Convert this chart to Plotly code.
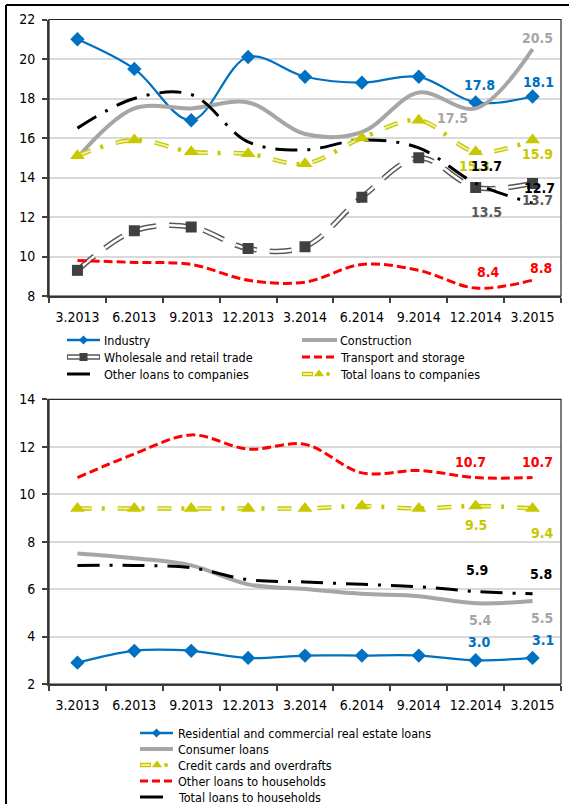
import plotly.graph_objects as go

W, H = 569, 804
FONT = "DejaVu Sans Condensed, DejaVu Sans, sans-serif"

# ---- data -----------------------------------------------------------------
quarters = ["3.2013", "6.2013", "9.2013", "12.2013", "3.2014",
            "6.2014", "9.2014", "12.2014", "3.2015"]

# loans to companies
industry = [21.0, 19.5, 16.9, 20.1, 19.1, 18.8, 19.1, 17.8, 18.1]
construction = [15.0, 17.5, 17.5, 17.8, 16.2, 16.3, 18.3, 17.5, 20.5]
wholesale_retail = [9.3, 11.3, 11.5, 10.4, 10.5, 13.0, 15.0, 13.5, 13.7]
transport_storage = [9.8, 9.7, 9.6, 8.8, 8.7, 9.6, 9.3, 8.4, 8.8]
other_companies = [16.5, 18.0, 18.2, 15.8, 15.4, 15.9, 15.5, 13.7, 12.7]
total_companies = [15.1, 15.9, 15.3, 15.2, 14.7, 16.0, 16.9, 15.3, 15.9]

# loans to households
real_estate = [2.9, 3.4, 3.4, 3.1, 3.2, 3.2, 3.2, 3.0, 3.1]
consumer = [7.5, 7.3, 7.0, 6.2, 6.0, 5.8, 5.7, 5.4, 5.5]
credit_cards = [9.4, 9.4, 9.4, 9.4, 9.4, 9.5, 9.4, 9.5, 9.4]
other_households = [10.7, 11.7, 12.5, 11.9, 12.1, 10.9, 11.0, 10.7, 10.7]
total_households = [7.0, 7.0, 6.9, 6.4, 6.3, 6.2, 6.1, 5.9, 5.8]

companies_ticks = [8, 10, 12, 14, 16, 18, 20, 22]
households_ticks = [2, 4, 6, 8, 10, 12, 14]

# category positions on the x axis
pos = list(range(len(quarters)))

# ---- styles ---------------------------------------------------------------
BLUE = "#0070c0"
GREY = "#a6a6a6"
DARK = "#595959"
SQUARE = "#404040"
RED = "#ff0000"
YELLOW = "#c8c800"
YELLOW_IN = "#f2f2a6"
BLACK = "#000000"

DASH_WHOLESALE = "22px,13px"
DASH_RED = "9px,4px"
DASH_BLACK = "22px,10px,3px,10px"
DASH_YELLOW = "14px,10px,3px,13px"
DASH_YELLOW_IN = "14px,26px"

fig = go.Figure()


def add_line(y, color, width, dash="solid", axis=""):
    fig.add_trace(go.Scatter(
        x=pos, y=y, mode="lines",
        line=dict(color=color, width=width, dash=dash, shape="spline", smoothing=1),
        xaxis="x" + axis, yaxis="y" + axis, hoverinfo="skip", showlegend=False))


def add_markers(y, symbol, size, color, axis=""):
    fig.add_trace(go.Scatter(
        x=pos, y=y, mode="markers",
        marker=dict(symbol=symbol, size=size, color=color, line=dict(width=0)),
        xaxis="x" + axis, yaxis="y" + axis, hoverinfo="skip", showlegend=False))


# top panel: companies
add_line(industry, BLUE, 2.25)
add_markers(industry, "diamond", 11, BLUE)
add_line(construction, GREY, 4)
add_line(wholesale_retail, DARK, 5.5, DASH_WHOLESALE)
add_line(wholesale_retail, "#ffffff", 2.5, DASH_WHOLESALE)
add_markers(wholesale_retail, "square", 11, SQUARE)
add_line(transport_storage, RED, 3, DASH_RED)
add_line(other_companies, BLACK, 3, DASH_BLACK)
add_line(total_companies, YELLOW, 4.5, DASH_YELLOW)
add_line(total_companies, YELLOW_IN, 1.8, DASH_YELLOW_IN)
add_markers(total_companies, "triangle-up", 13, YELLOW)

# bottom panel: households
add_line(real_estate, BLUE, 2.25, axis="2")
add_markers(real_estate, "diamond", 11, BLUE, axis="2")
add_line(consumer, GREY, 4, axis="2")
add_line(credit_cards, YELLOW, 4.5, DASH_YELLOW, axis="2")
add_line(credit_cards, YELLOW_IN, 1.8, DASH_YELLOW_IN, axis="2")
add_markers(credit_cards, "triangle-up", 13, YELLOW, axis="2")
add_line(other_households, RED, 3, DASH_RED, axis="2")
add_line(total_households, BLACK, 3, DASH_BLACK, axis="2")

# ---- value labels on the last two quarters --------------------------------
annotations = []


def value_label(series, i, color, dx, dy, axis=""):
    annotations.append(dict(
        x=pos[i], y=series[i], xref="x" + axis, yref="y" + axis,
        text="<b>%.1f</b>" % series[i], showarrow=False,
        xshift=dx, yshift=dy, font=dict(family=FONT, size=14, color=color)))


value_label(industry, 7, BLUE, 3.5, 17.5)
value_label(industry, 8, BLUE, 5.5, 15)
value_label(construction, 8, GREY, 4.5, 11.5)
value_label(construction, 7, GREY, -23.5, -10)
value_label(total_companies, 7, YELLOW, -1.5, -14)
value_label(other_companies, 7, BLACK, 10.5, 17.7)
value_label(total_companies, 8, YELLOW, 4.5, -14.3)
value_label(other_companies, 8, BLACK, 6.5, 15)
value_label(wholesale_retail, 8, DARK, 4.5, -16.6)
value_label(wholesale_retail, 7, DARK, 10.5, -24.3)
value_label(transport_storage, 7, RED, 12.5, 16.4)
value_label(transport_storage, 8, RED, 8.5, 12.5)

value_label(other_households, 7, RED, -4.8, 15.9, "2")
value_label(other_households, 8, RED, 4.8, 15.9, "2")
value_label(credit_cards, 7, YELLOW, 0, -18.9, "2")
value_label(credit_cards, 8, YELLOW, 9.5, -24.8, "2")
value_label(total_households, 7, BLACK, 1.5, 21.3, "2")
value_label(total_households, 8, BLACK, 8.5, 19.7, "2")
value_label(consumer, 7, GREY, 4.5, -16.6, "2")
value_label(consumer, 8, GREY, 9.5, -16.7, "2")
value_label(real_estate, 7, BLUE, 3.5, 18, "2")
value_label(real_estate, 8, BLUE, 10.5, 17.9, "2")

# ---- legends (drawn on a transparent pixel overlay axis) -------------------
def lg_line(x0, x1, y, color, width, dash="solid"):
    fig.add_trace(go.Scatter(
        x=[x0, x1], y=[y, y], mode="lines",
        line=dict(color=color, width=width, dash=dash),
        xaxis="x3", yaxis="y3", hoverinfo="skip", showlegend=False))


def lg_marker(x, y, symbol, size, color):
    fig.add_trace(go.Scatter(
        x=[x], y=[y], mode="markers",
        marker=dict(symbol=symbol, size=size, color=color, line=dict(width=0)),
        xaxis="x3", yaxis="y3", hoverinfo="skip", showlegend=False))


def lg_text(x, y, text):
    annotations.append(dict(
        x=x, y=y, xref="x3", yref="y3", text=text, showarrow=False,
        xanchor="left", yanchor="middle",
        font=dict(family=FONT, size=12.5, color=BLACK)))


def key_blue(x0, x1, y):
    lg_line(x0, x1, y, BLUE, 2.5)
    lg_marker((x0 + x1) / 2, y, "diamond", 7, BLUE)


def key_grey(x0, x1, y):
    lg_line(x0, x1, y, GREY, 4)


def key_wholesale(x0, x1, y):
    lg_line(x0, x1, y, DARK, 5.5)
    lg_line(x0 + 1, x1 - 1, y, "#ffffff", 2.5)
    lg_marker((x0 + x1) / 2, y, "square", 8, SQUARE)


def key_red(x0, x1, y):
    lg_line(x0, x1, y, RED, 3, "8px,4px")


def key_black(x0, x1, y):
    lg_line(x0, x0 + 23, y, BLACK, 3)


def key_yellow(x0, x1, y):
    lg_line(x0, x0 + 11, y, YELLOW, 4.5)
    lg_line(x0 + 1, x0 + 10, y, YELLOW_IN, 1.8)
    lg_marker(x0 + 17, y, "triangle-up", 9, YELLOW)
    lg_marker(x0 + 26, y, "circle", 4, YELLOW)


top_rows = [340, 357, 374]
left_keys = [(key_blue, "Industry"), (key_wholesale, "Wholesale and retail trade"),
             (key_black, "Other loans to companies")]
right_keys = [(key_grey, "Construction"), (key_red, "Transport and storage"),
              (key_yellow, "Total loans to companies")]
for yy, (fn, label) in zip(top_rows, left_keys):
    fn(67, 100, yy)
    lg_text(102, yy, label)
for yy, (fn, label) in zip(top_rows, right_keys):
    fn(302, 337, yy)
    lg_text(338, yy, label)

bottom_rows = [733, 749, 765, 781, 797]
bottom_keys = [(key_blue, "Residential and commercial real estate loans"),
               (key_grey, "Consumer loans"),
               (key_yellow, "Credit cards and overdrafts"),
               (key_red, "Other loans to households"),
               (key_black, "Total loans to households")]
for yy, (fn, label) in zip(bottom_rows, bottom_keys):
    fn(140, 173, yy)
    lg_text(176, yy, label)

# ---- axes -----------------------------------------------------------------
X0, X1 = 49 / W, 561 / W
TOP = [1 - 296 / H, 1 - 19.5 / H]
BOTTOM = [1 - 684 / H, 1 - 399.3 / H]

tickfont = dict(family=FONT, size=14, color=BLACK)
AXIS = "#404040"


def x_axis(anchor):
    # labels sit at the category centres, tick marks on the category boundaries
    return dict(domain=[X0, X1], anchor=anchor, range=[-0.5, len(quarters) - 0.5],
                tickvals=pos, ticktext=quarters,
                ticks="outside", ticklen=5, tickcolor="rgba(0,0,0,0)",
                minor=dict(ticks="outside", ticklen=5, tickwidth=1.5, tickcolor=AXIS,
                           tick0=-0.5, dtick=1, showgrid=False),
                showline=True, linecolor=AXIS, linewidth=2, showgrid=False,
                zeroline=False, tickfont=tickfont, ticklabelstandoff=2,
                automargin=False)


def y_axis(anchor, dom, rng, vals):
    return dict(domain=dom, range=rng, tickvals=vals, anchor=anchor,
                ticks="outside", ticklen=5, tickwidth=1.5, tickcolor=AXIS,
                showline=True, linecolor=AXIS, linewidth=2, showgrid=True,
                gridcolor="#d9d9d9", gridwidth=2, zeroline=False, tickfont=tickfont,
                ticklabelstandoff=4, automargin=False)


shapes = [
    dict(type="rect", xref="x domain", yref="y domain", x0=0, x1=1, y0=0, y1=1,
         line=dict(color="#262626", width=1.2)),
    dict(type="rect", xref="x2 domain", yref="y2 domain", x0=0, x1=1, y0=0, y1=1,
         line=dict(color="#262626", width=1.2)),
    # outer frame
    dict(type="line", xref="paper", yref="paper", x0=6 / W, x1=1, y0=1 - 5 / H, y1=1 - 5 / H,
         line=dict(color=BLACK, width=2)),
    dict(type="line", xref="paper", yref="paper", x0=6 / W, x1=6 / W, y0=0, y1=1 - 5 / H,
         line=dict(color=BLACK, width=2)),
]

overlay = dict(domain=[0, 1], visible=False, showticklabels=False, showgrid=False,
               zeroline=False, automargin=False)

fig.update_layout(
    width=W, height=H, margin=dict(l=0, r=0, t=0, b=0, autoexpand=False),
    paper_bgcolor="#ffffff", plot_bgcolor="rgba(0,0,0,0)",
    font=dict(family=FONT, size=14, color=BLACK),
    showlegend=False,
    xaxis=x_axis("y"),
    yaxis=y_axis("x", TOP, [8, 22], companies_ticks),
    xaxis2=x_axis("y2"),
    yaxis2=y_axis("x2", BOTTOM, [2, 14], households_ticks),
    xaxis3=dict(overlay, range=[0, W], anchor="y3"),
    yaxis3=dict(overlay, range=[H, 0], anchor="x3"),
    annotations=annotations,
    shapes=shapes,
)

fig.write_html("out.html")
